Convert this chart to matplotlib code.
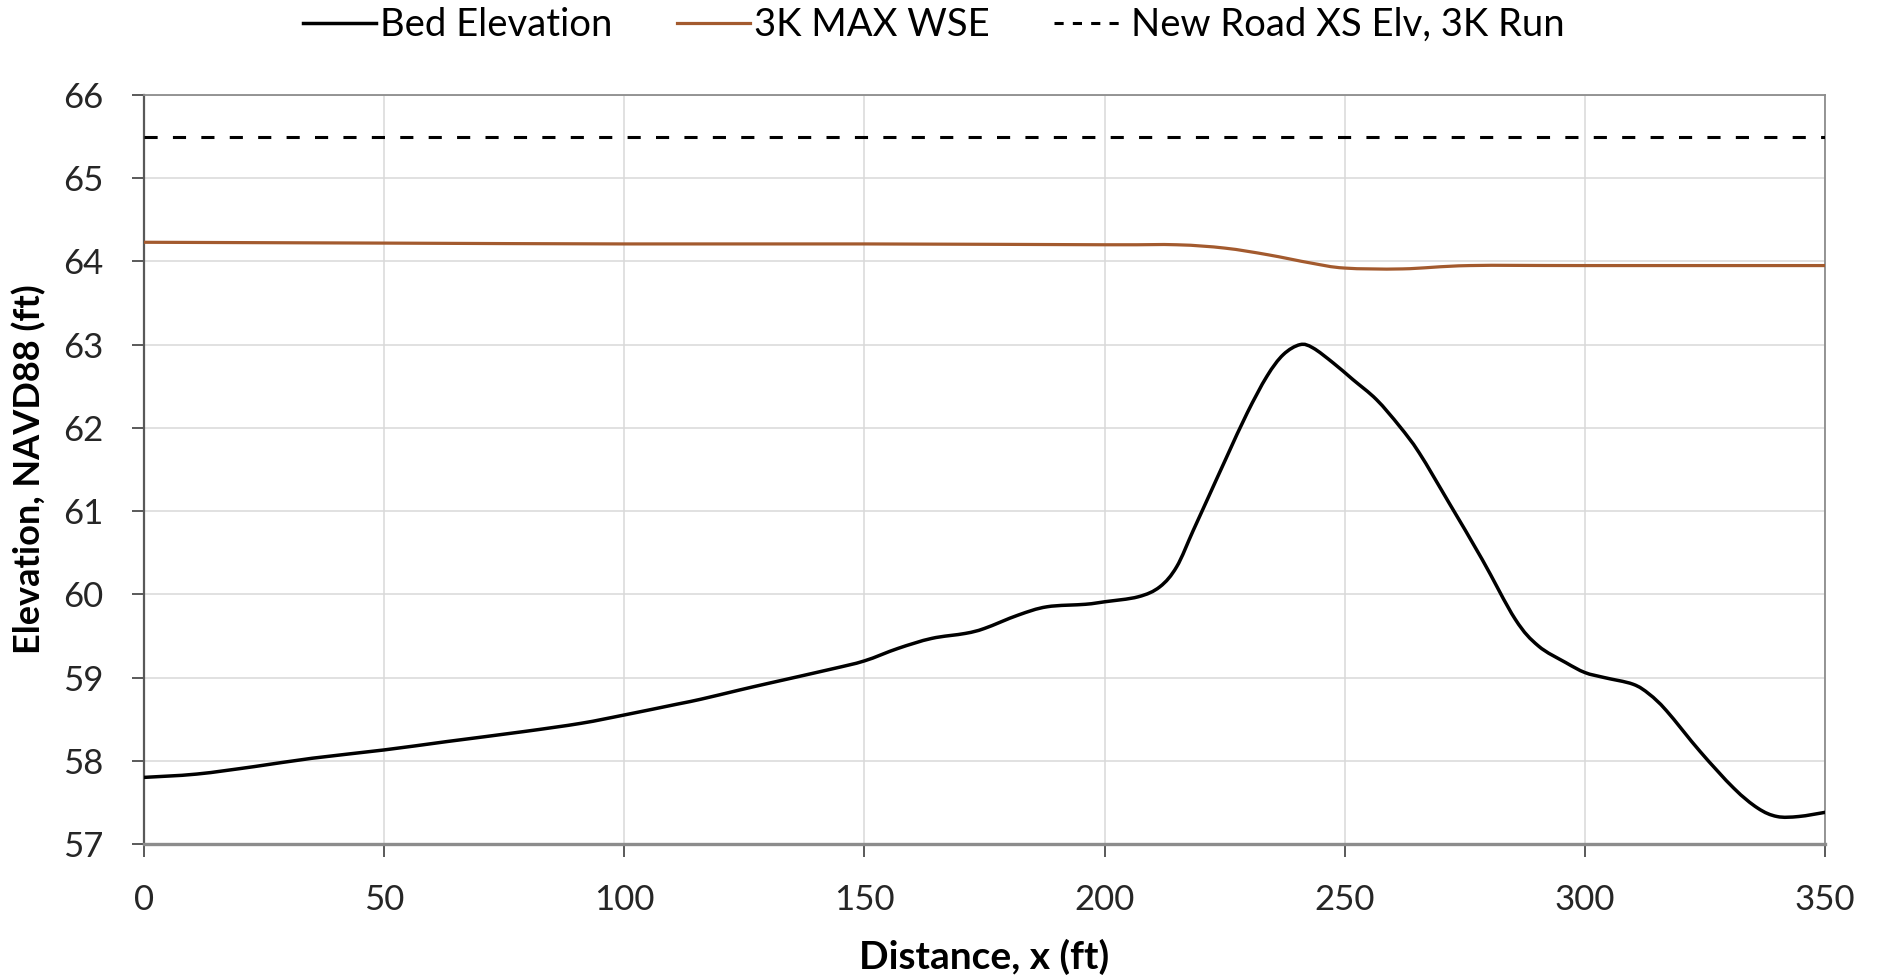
import matplotlib.pyplot as plt
from matplotlib.path import Path
from matplotlib.patches import PathPatch
from matplotlib.lines import Line2D

plt.rcParams['font.family'] = ['Lato', 'DejaVu Sans']

# Bed elevation profile (ft, NAVD88)
bed_x = [0, 11, 23, 35, 50, 63, 79, 91, 100, 111, 116, 124, 130, 143, 150, 157,
         164, 171, 175, 182, 188, 196, 200, 207, 211.5, 215, 218.4, 221.4, 225.5,
         229.7, 233.8, 237.2, 240.7, 243.4, 247.6, 251.7, 256.6, 261.4, 265.5,
         271.7, 278.6, 285.5, 290.3, 296, 300, 304, 310, 313.4, 317, 324, 331,
         336, 340, 344.5, 350]
bed_y = [57.80, 57.84, 57.93, 58.03, 58.13, 58.23, 58.35, 58.45, 58.55, 58.68,
         58.74, 58.85, 58.93, 59.10, 59.20, 59.35, 59.47, 59.53, 59.59, 59.75,
         59.85, 59.88, 59.91, 59.97, 60.09, 60.33, 60.76, 61.14, 61.66, 62.18,
         62.62, 62.88, 63.00, 62.96, 62.78, 62.58, 62.34, 62.02, 61.70, 61.10,
         60.42, 59.70, 59.38, 59.18, 59.06, 59.00, 58.92, 58.80, 58.60, 58.11,
         57.67, 57.43, 57.33, 57.33, 57.38]

# 3K max water surface elevation
wse_x = [0, 50, 100, 150, 200, 215, 225, 234, 243, 250, 262, 276, 300, 350]
wse_y = [64.23, 64.22, 64.21, 64.21, 64.20, 64.20, 64.16, 64.08, 63.98, 63.92,
         63.91, 63.95, 63.95, 63.95]

# new road cross-section elevation
road_x = [0, 350]
road_y = [65.5, 65.5]


def smooth_path(xs, ys, t=1 / 6):
    # Excel-style smoothed line: cubic Bezier through every data point
    verts = [(xs[0], ys[0])]
    codes = [Path.MOVETO]
    n = len(xs)
    for i in range(n - 1):
        x0, y0 = (xs[i - 1], ys[i - 1]) if i > 0 else (xs[i], ys[i])
        x1, y1 = xs[i], ys[i]
        x2, y2 = xs[i + 1], ys[i + 1]
        x3, y3 = (xs[i + 2], ys[i + 2]) if i + 2 < n else (x2, y2)
        verts += [(x1 + (x2 - x0) * t, y1 + (y2 - y0) * t),
                  (x2 - (x3 - x1) * t, y2 - (y3 - y1) * t),
                  (x2, y2)]
        codes += [Path.CURVE4] * 3
    return Path(verts, codes)


fig = plt.figure(figsize=(18.79, 9.80), dpi=100)
ax = fig.add_axes([0.0766, 0.1388, 0.8947, 0.7643])

bed_color = 'black'
wse_color = '#a35a2e'
ax.add_patch(PathPatch(smooth_path(bed_x, bed_y), fill=False, edgecolor=bed_color,
                       lw=2.5, zorder=3, capstyle='round'))
ax.add_patch(PathPatch(smooth_path(wse_x, wse_y), fill=False, edgecolor=wse_color,
                       lw=2.3, zorder=3))
ax.plot(road_x, road_y, color='black', lw=2.2, dashes=(4.3, 5), zorder=3)

ax.set_xlim(0, 350)
ax.set_ylim(57, 66)
ax.set_xticks(range(0, 351, 50))
ax.set_yticks(range(57, 67))
ax.grid(True, color='#d9d9d9', lw=1.1)
ax.set_axisbelow(True)

for side in ['top', 'right']:
    ax.spines[side].set_color('#8c8c8c')
    ax.spines[side].set_linewidth(1.3)
ax.spines['left'].set_color('#595959')
ax.spines['left'].set_linewidth(1.6)
ax.spines['bottom'].set_color('#8c8c8c')
ax.spines['bottom'].set_linewidth(2.4)

ax.tick_params(axis='both', direction='out', length=9, width=1.4, color='#595959',
               labelsize=25, labelcolor='#262626', pad=20)

ax.set_xlabel('Distance, x (ft)', fontsize=28, fontweight='bold', labelpad=16)
ax.set_ylabel('Elevation, NAVD88 (ft)', fontsize=26, fontweight='bold', labelpad=12)

handles = [Line2D([], [], color=bed_color, lw=2.5),
           Line2D([], [], color=wse_color, lw=2.3),
           Line2D([], [], color='black', lw=2.2, dashes=(3, 3))]
labels = ['Bed Elevation', '3K MAX WSE', 'New Road XS Elv, 3K Run']
fig.legend(handles, labels, loc='upper center', bbox_to_anchor=(0.497, 1.028), ncol=3,
           frameon=False, fontsize=27.5, handlelength=1.9, handletextpad=0.1,
           columnspacing=1.7)

fig.savefig('out.png', dpi=100)
